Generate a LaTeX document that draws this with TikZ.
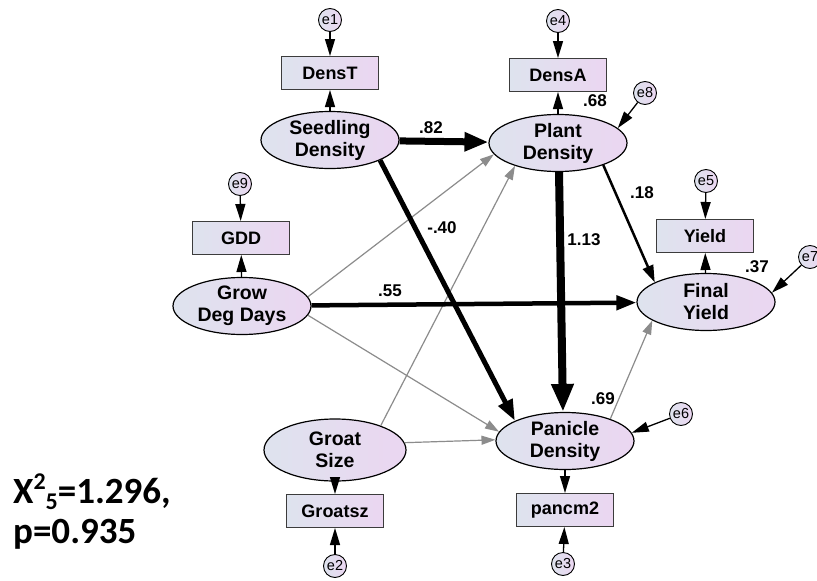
\documentclass[tikz,border=0pt]{standalone}
\usepackage{fontspec}
\setmainfont{Liberation Sans}
\newfontfamily\notefont{Carlito}
\usetikzlibrary{arrows.meta,shapes.geometric}

\definecolor{fillL}{RGB}{222,227,238}
\definecolor{fillR}{RGB}{235,214,241}
\definecolor{pathgray}{RGB}{140,140,140}
\definecolor{boxline}{RGB}{60,60,60}

\newcommand{\supsub}[2]{{\fontsize{24}{24}\selectfont\raisebox{14pt}{#1}\raisebox{-6pt}{#2}}}

\begin{document}
\begin{tikzpicture}[x=1pt,y=-1pt,
  latent/.style={ellipse,draw=black,line width=1.2pt,left color=fillL,right color=fillR,
    minimum width=138pt,minimum height=57pt,inner sep=0pt,align=center,
    font=\fontsize{19.5}{22}\selectfont\bfseries},
  observed/.style={rectangle,draw=boxline,line width=1pt,left color=fillL,right color=fillR,
    minimum width=97pt,minimum height=33pt,inner sep=0pt,
    font=\fontsize{18}{20}\selectfont\bfseries},
  err/.style={circle,draw=black,line width=0.9pt,left color=fillL,right color=fillR,
    minimum size=23pt,inner sep=0pt,font=\fontsize{14.5}{15}\selectfont},
  meas/.style={line width=1.3pt,-{Triangle[length=17pt,width=10pt]}},
  coef/.style={font=\fontsize{17}{17}\selectfont\bfseries,inner sep=0pt},
  weak/.style={draw=pathgray,line width=1.2pt,-{Triangle[length=14pt,width=9pt]}},
  note/.style={font=\notefont\fontsize{37}{42}\selectfont\bfseries,inner sep=0pt,anchor=base west},
]
\fill[white] (0,0) rectangle (817,581);
\useasboundingbox (0,0) rectangle (817,581);

% latent variables
\node[latent] (seed) at (330,140) {Seedling\\Density};
\node[latent] (plant) at (558,143) {Plant\\Density};
\node[latent] (grow) at (242,306) {Grow\\Deg Days};
\node[latent] (final) at (706,302) {Final\\Yield};
\node[latent,minimum width=142pt,minimum height=62pt] (groat) at (335,450) {Groat\\Size};
\node[latent] (pan) at (565,441) {Panicle\\Density};

% indicators
\node[observed] (denst) at (330,73) {DensT};
\node[observed] (densa) at (558,75) {DensA};
\node[observed] (gdd) at (241,238) {GDD};
\node[observed] (yield) at (705,236) {Yield};
\node[observed] (groatsz) at (335,511) {Groatsz};
\node[observed] (pancm) at (565,510) {pancm2};

% error terms
\node[err] (e1) at (330,20) {e1};
\node[err] (e4) at (558,21) {e4};
\node[err] (e9) at (240,184) {e9};
\node[err] (e5) at (706,181) {e5};
\node[err] (e2) at (335,566) {e2};
\node[err] (e3) at (563,564) {e3};
\node[err] (e8) at (645,93) {e8};
\node[err] (e7) at (810,257) {e7};
\node[err] (e6) at (681,414) {e6};

% measurement arrows
\draw[meas] (e1) -- (denst);
\draw[meas] (seed) -- (denst);
\draw[meas] (e4) -- (densa);
\draw[meas] (plant) -- (densa);
\draw[meas] (e9) -- (gdd);
\draw[meas] (grow) -- (gdd);
\draw[meas] (e5) -- (yield);
\draw[meas] (final) -- (yield);
\draw[meas] (groat) -- (groatsz);
\draw[meas] (e2) -- (groatsz);
\draw[meas] (pan) -- (pancm);
\draw[meas] (e3) -- (pancm);
\draw[meas] (e8) -- (plant.14);
\draw[meas] (e7) -- (final.8);
\draw[meas] (e6) -- (pan.7);

% weak paths
\draw[weak] (grow.8) -- (plant.190);
\draw[weak] (grow.-8) -- (pan.172);
\draw[weak] (groat.28) -- (plant.208);
\draw[weak] (groat.6) -- (pan.179);
\draw[weak] (pan.26) -- (final.199);

% strong paths
\draw[line width=7pt,-{Triangle[length=24pt,width=18pt]}] (seed) -- (plant);
\draw[line width=5pt,-{Triangle[length=21pt,width=15pt]}] (seed.-22) -- (pan.158);
\draw[line width=8pt,-{Triangle[length=28pt,width=21pt]}] (plant.-88) -- (pan.94);
\draw[line width=2.5pt,-{Triangle[length=17pt,width=11pt]}] (plant.-26) -- (final.159);
\draw[line width=4.5pt,-{Triangle[length=20pt,width=14pt]}] (grow) -- (final);

% coefficients
\node[coef] (c82) at (431,128) {.82};
\node[coef] (c40) at (442,228) {-.40};
\node[coef] (c113) at (584,240) {1.13};
\node[coef] (c18) at (642,193) {.18};
\node[coef] (c55) at (390,291) {.55};
\node[coef] (r68) at (595,101) {.68};
\node[coef] (r37) at (757,267) {.37};
\node[coef] (r69) at (603,399) {.69};

% fit statistics
\node[note] (chi) at (13,503) {X\supsub{2}{5}=1.296,};
\node[note] (pval) at (13,543) {p=0.935};
\end{tikzpicture}
\end{document}
